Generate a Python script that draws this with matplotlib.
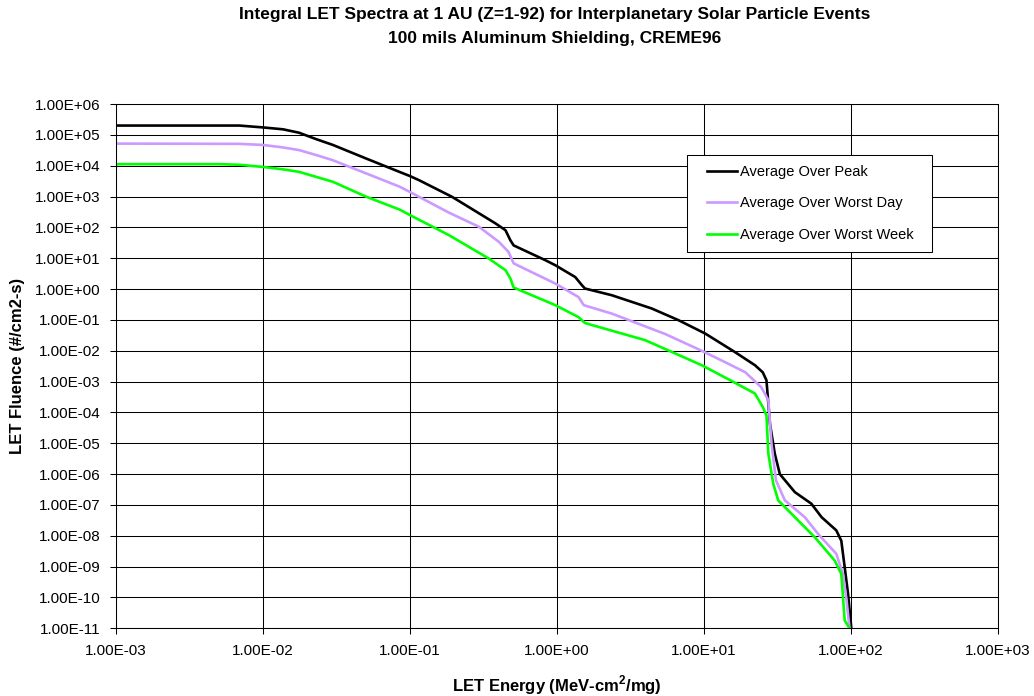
import matplotlib
matplotlib.use("Agg")
import matplotlib.pyplot as plt
from matplotlib.ticker import FixedLocator, NullLocator, FuncFormatter
from matplotlib.legend_handler import HandlerLine2D

plt.rcParams['font.family'] = ['Liberation Sans', 'DejaVu Sans']
plt.rcParams['mathtext.fontset'] = 'custom'
plt.rcParams['mathtext.rm'] = 'Liberation Sans'
plt.rcParams['mathtext.bf'] = 'Liberation Sans:bold'

# ---------------- data ----------------
peak_let = [1.0e-3, 6.9e-3, 1.0e-2, 1.37e-2, 1.76e-2, 2.31e-2, 2.99e-2, 5.04e-2, 8.47e-2, 0.10,
            0.115, 0.193, 0.381, 0.446, 0.482, 0.507, 0.834, 0.975, 1.33, 1.48,
            1.55, 2.36, 4.41, 6.70, 10.2, 16.2, 22.2, 25.1, 26.6, 28.1,
            30.3, 32.8, 41.5, 53.7, 63.1, 79.4, 85.9, 90.6, 95.5, 100.5]
peak_flu = [2.0e5, 2.0e5, 1.74e5, 1.51e5, 1.17e5, 7.2e4, 4.7e4, 1.7e4, 6.3e3, 4.6e3,
            3.4e3, 9.8e2, 1.35e2, 81, 38, 26, 8.6, 5.9, 2.45, 1.32,
            1.04, 0.63, 0.234, 0.098, 0.036, 9.1e-3, 3.4e-3, 2.0e-3, 1.1e-3, 4.3e-5,
            4.6e-6, 1.0e-6, 2.6e-7, 1.1e-7, 4.0e-8, 1.5e-8, 6.9e-9, 9.5e-10, 1.3e-10, 1.0e-11]

day_let = [1.0e-3, 6.9e-3, 1.0e-2, 1.37e-2, 1.76e-2, 2.31e-2, 2.99e-2, 5.04e-2, 8.47e-2, 0.10,
           0.184, 0.294, 0.402, 0.468, 0.507, 0.975, 1.40, 1.52, 2.36, 5.43,
           9.64, 14.6, 19.1, 24.5, 27.4, 28.8, 30.9, 35.5, 48.5, 59.7,
           79.4, 88.1, 93.3, 97.7]
day_flu = [5.2e4, 5.1e4, 4.7e4, 3.9e4, 3.2e4, 2.2e4, 1.5e4, 5.6e3, 2.1e3, 1.4e3,
           3.0e2, 1.05e2, 34, 16, 6.8, 1.5, 0.55, 0.30, 0.16, 0.035,
           0.010, 3.8e-3, 2.0e-3, 6.6e-4, 2.5e-4, 9.5e-6, 6.2e-7, 1.4e-7, 4.0e-8, 1.15e-8,
           2.6e-9, 5.8e-10, 8.0e-11, 1.0e-11]

week_let = [1.0e-3, 5.0e-3, 6.95e-3, 1.0e-2, 1.37e-2, 1.76e-2, 2.99e-2, 5.0e-2, 8.47e-2, 0.10,
            0.184, 0.343, 0.446, 0.482, 0.507, 0.975, 1.40, 1.55, 3.98, 9.64,
            14.6, 22.2, 25.1, 26.6, 27.4, 29.6, 32.0, 41.5, 56.8, 77.6,
            85.9, 90.6, 97.7]
week_flu = [1.12e4, 1.12e4, 1.07e4, 9.1e3, 7.6e3, 6.3e3, 3.0e3, 1.0e3, 3.8e2, 2.5e2,
            56, 9.8, 4.1, 2.2, 1.12, 0.30, 0.123, 0.079, 0.022, 3.4e-3,
            1.2e-3, 4.1e-4, 1.5e-4, 7.9e-5, 4.6e-6, 4.8e-7, 1.4e-7, 4.0e-8, 8.9e-9, 1.55e-9,
            5.8e-10, 1.8e-11, 1.0e-11]

x_ticks = [1e-3, 1e-2, 1e-1, 1e0, 1e1, 1e2, 1e3]
y_ticks = [1e-11, 1e-10, 1e-9, 1e-8, 1e-7, 1e-6, 1e-5, 1e-4, 1e-3,
           1e-2, 1e-1, 1e0, 1e1, 1e2, 1e3, 1e4, 1e5, 1e6]

series_names = ["Average Over Peak", "Average Over Worst Day", "Average Over Worst Week"]
title_lines = ["Integral LET Spectra at 1 AU (Z=1-92) for Interplanetary Solar Particle Events",
               "100 mils Aluminum Shielding, CREME96"]
x_label = r"LET Energy (MeV-cm$^{\mathbf{2}}$/mg)"
y_label = "LET Fluence (#/cm2-s)"

# ---------------- figure ----------------
W, H = 1034, 696
AX_L, AX_R, AX_T, AX_B = 116, 998, 104, 628.3
fig = plt.figure(figsize=(W / 100, H / 100), dpi=100)
ax = fig.add_axes([AX_L / W, 1 - AX_B / H, (AX_R - AX_L) / W, (AX_B - AX_T) / H])
axw, axh = AX_R - AX_L, AX_B - AX_T

colors = ["#000000", "#CC99FF", "#00FF00"]
for xs, ys, name, c in zip([peak_let, day_let, week_let],
                           [peak_flu, day_flu, week_flu],
                           series_names, colors):
    ax.plot(xs, ys, color=c, lw=1.9, label=name, solid_joinstyle='round')

ax.set_xscale('log')
ax.set_yscale('log')
ax.set_xlim(x_ticks[0], x_ticks[-1])
ax.set_ylim(y_ticks[0], y_ticks[-1])

ax.xaxis.set_major_locator(FixedLocator(x_ticks))
ax.yaxis.set_major_locator(FixedLocator(y_ticks))
ax.xaxis.set_minor_locator(NullLocator())
ax.yaxis.set_minor_locator(NullLocator())
fmt = FuncFormatter(lambda v, p: f"{v:.2E}")
ax.xaxis.set_major_formatter(fmt)
ax.yaxis.set_major_formatter(fmt)

ax.grid(True, which='major', color='black', lw=0.75)
ax.set_axisbelow(True)
for s in ax.spines.values():
    s.set_color('black')
    s.set_linewidth(0.75)
ax.tick_params(axis='both', which='major', direction='out', length=4, width=0.75,
               labelsize=11, colors='black')
ax.tick_params(axis='y', pad=7)
ax.tick_params(axis='x', pad=7)

ax.set_xlabel(x_label, fontsize=12, fontweight='bold', va='center')
ax.xaxis.set_label_coords(0.5, (AX_B - 685) / axh)
ax.set_ylabel(y_label, fontsize=12, fontweight='bold', va='center')
ax.yaxis.set_label_coords((18 - AX_L) / axw, 0.5)

fig.text(555 / W, 1 - 15 / H, title_lines[0], ha='center', va='center',
         fontsize=12.5, fontweight='bold')
fig.text(555 / W, 1 - 39 / H, title_lines[1], ha='center', va='center',
         fontsize=12.5, fontweight='bold')

leg = ax.legend(loc='upper left',
                bbox_to_anchor=((687 - AX_L) / axw, (AX_B - 251) / axh,
                                245 / axw, 96 / axh),
                mode='expand', borderaxespad=0, fontsize=10.5, frameon=True,
                fancybox=False, framealpha=1, edgecolor='black', borderpad=0.7,
                handlelength=2.74, handletextpad=0.2, labelspacing=1.18,
                handler_map={plt.Line2D: HandlerLine2D(xpad=0.68)})
leg.get_frame().set_linewidth(0.75)

fig.savefig("out.png", dpi=100, facecolor='white')
